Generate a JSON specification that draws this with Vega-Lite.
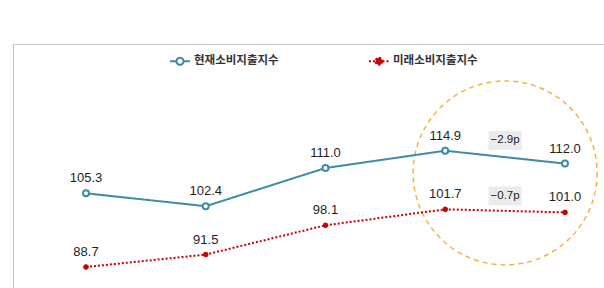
{
  "$schema": "https://vega.github.io/schema/vega-lite/v6.json",
  "width": 591,
  "height": 244,
  "autosize": {"type": "none"},
  "padding": {"left": 13, "top": 44, "right": 0, "bottom": 0},
  "background": "white",
  "config": {"view": {"stroke": null}},
  "datasets": {
    "series": [
      {"i": 0, "series": "현재소비지출지수", "v": 105.3},
      {"i": 1, "series": "현재소비지출지수", "v": 102.4},
      {"i": 2, "series": "현재소비지출지수", "v": 111.0},
      {"i": 3, "series": "현재소비지출지수", "v": 114.9},
      {"i": 4, "series": "현재소비지출지수", "v": 112.0},
      {"i": 0, "series": "미래소비지출지수", "v": 88.7},
      {"i": 1, "series": "미래소비지출지수", "v": 91.5},
      {"i": 2, "series": "미래소비지출지수", "v": 98.1},
      {"i": 3, "series": "미래소비지출지수", "v": 101.7},
      {"i": 4, "series": "미래소비지출지수", "v": 101.0}
    ],
    "notes": [
      {"i": 3.5, "v": 117.2, "label": "−2.9p"},
      {"i": 3.5, "v": 104.7, "label": "−0.7p"}
    ],
    "ring": [
      {"i": 3.5, "v": 109.9}
    ]
  },
  "encoding": {
    "x": {"field": "i", "type": "quantitative", "scale": {"domain": [-0.6096, 4.3258], "nice": false, "zero": false},
      "axis": {"orient": "top", "title": null, "labels": false, "ticks": false, "grid": false, "domain": true, "domainColor": "#8a8a8a", "domainDash": [1, 1], "domainWidth": 1}},
    "y": {"field": "v", "type": "quantitative", "scale": {"domain": [83.97, 138.94], "nice": false, "zero": false},
      "axis": {"orient": "left", "title": null, "labels": false, "ticks": false, "grid": false, "domain": true, "domainColor": "#8a8a8a", "domainDash": [1, 1], "domainWidth": 1}}
  },
  "layer": [
    {
      "data": {"name": "ring"},
      "mark": {"type": "point", "shape": "circle", "size": 33856, "filled": false, "stroke": "#f2b544", "strokeWidth": 1.5, "strokeDash": [5, 4], "opacity": 1}
    },
    {
      "data": {"name": "notes"},
      "mark": {"type": "point", "shape": "M-1,-0.576H1V0.576H-1Z", "size": 1089, "filled": true, "fill": "#ebebeb", "strokeWidth": 0, "opacity": 1}
    },
    {
      "data": {"name": "notes"},
      "mark": {"type": "text", "font": "Liberation Sans", "fontSize": 11.5, "color": "#222222", "baseline": "middle", "align": "center"},
      "encoding": {"text": {"field": "label"}}
    },
    {
      "data": {"name": "series"},
      "mark": {"type": "line", "strokeWidth": 2},
      "encoding": {
        "color": {"field": "series", "type": "nominal",
          "scale": {"domain": ["현재소비지출지수", "미래소비지출지수"], "range": ["#3a8da4", "#c80000"]},
          "legend": {
            "orient": "none", "legendX": 156, "legendY": 6, "direction": "horizontal", "title": null,
            "symbolType": "M-1,0H-0.35M0.35,0H1M0.35,0A0.35,0.35,0,1,1,-0.35,0A0.35,0.35,0,1,1,0.35,0",
            "symbolSize": 400, "symbolStrokeWidth": 2,
            "labelFont": "Noto Sans CJK KR", "labelFontSize": 11.5, "labelFontWeight": "bold", "labelColor": "#333333",
            "columnPadding": 86, "labelOffset": 3, "padding": 0,
            "encode": {"symbols": {"update": {
              "fill": {"signal": "datum.value === '현재소비지출지수' ? '#ffffff' : '#c80000'"},
              "strokeDash": {"signal": "datum.value === '현재소비지출지수' ? [] : [2, 1.5]"}
            }}}
          }},
        "strokeDash": {"field": "series", "type": "nominal",
          "scale": {"domain": ["현재소비지출지수", "미래소비지출지수"], "range": [[1, 0], [2, 2]]}, "legend": null}
      }
    },
    {
      "data": {"name": "series"},
      "transform": [{"filter": "datum.series === '현재소비지출지수'"}],
      "mark": {"type": "point", "shape": "circle", "filled": true, "fill": "#ffffff", "stroke": "#3a8da4", "strokeWidth": 2, "size": 36, "opacity": 1}
    },
    {
      "data": {"name": "series"},
      "transform": [{"filter": "datum.series === '미래소비지출지수'"}],
      "mark": {"type": "point", "shape": "circle", "filled": true, "fill": "#c80000", "stroke": "#c80000", "strokeWidth": 1, "size": 22, "opacity": 1}
    },
    {
      "data": {"name": "series"},
      "mark": {"type": "text", "font": "Liberation Sans", "fontSize": 13, "color": "#1e1e1e", "baseline": "middle", "align": "center", "dy": -15},
      "encoding": {"text": {"field": "v", "type": "quantitative", "format": ".1f"}}
    }
  ]
}
